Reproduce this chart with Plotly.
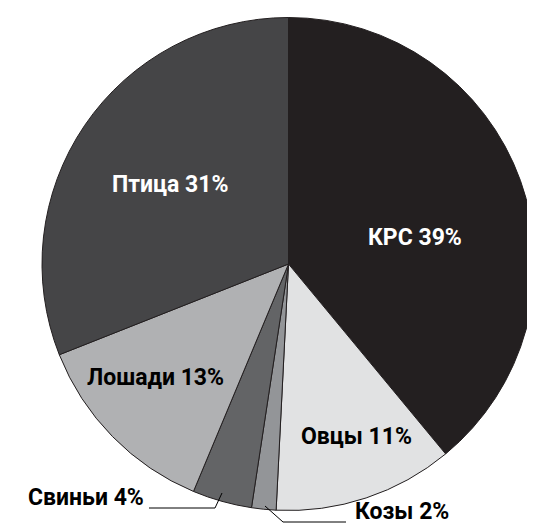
import plotly.graph_objects as go

# page body has an 8px margin, so the figure is offset; work in reference pixels
OFF = 8
W, H = 535 - OFF, 525 - OFF

categories = ["КРС", "Овцы", "Козы", "Свиньи", "Лошади", "Птица"]
values = [39.0, 11.8, 1.6, 3.9, 12.7, 31.0]
pct_labels = ["39%", "11%", "2%", "4%", "13%", "31%"]
colors = ["#231f20", "#e1e2e3", "#939598", "#636466", "#b0b1b3", "#454547"]
text_colors = ["white", "black", "black", "black", "black", "white"]
# label centre positions in reference pixels
label_px = [(415, 237), (356, 436), (402, 511), (86, 497), (155, 377), (170, 184)]


def px(x, y):
    return (x - OFF) / W, 1 - (y - OFF) / H


x0, _ = px(42, 0)
_, ytop = px(0, 17.5)
_, ybot = px(0, 510.5)

fig = go.Figure(go.Pie(
    labels=categories,
    values=values,
    sort=False,
    direction="clockwise",
    rotation=0,
    marker=dict(colors=colors, line=dict(color="#231f20", width=1)),
    textinfo="none",
    hoverinfo="skip",
    showlegend=False,
    domain=dict(x=[x0, 1.0], y=[ybot, ytop]),
))

for cat, p, tc, (lx, ly) in zip(categories, pct_labels, text_colors, label_px):
    ax, ay = px(lx, ly)
    fig.add_annotation(
        x=ax, y=ay, xref="paper", yref="paper", showarrow=False,
        text=f"{cat} {p}",
        font=dict(family="Roboto", size=23, color=tc, weight="bold"),
        xanchor="center", yanchor="middle",
    )


def path(points):
    s = ""
    for i, (x, y) in enumerate(points):
        X, Y = px(x, y)
        s += ("M" if i == 0 else "L") + f"{X},{Y} "
    return s


# leader lines for the small slices
fig.add_shape(type="path", xref="paper", yref="paper",
              path=path([(149, 508), (215, 508), (222, 493)]),
              line=dict(color="black", width=1))
fig.add_shape(type="path", xref="paper", yref="paper",
              path=path([(265, 506), (283, 522), (346, 522)]),
              line=dict(color="black", width=1))

fig.update_layout(
    width=W, height=H,
    margin=dict(l=0, r=0, t=0, b=0),
    paper_bgcolor="white",
    plot_bgcolor="white",
)

fig.write_html("out.html")
